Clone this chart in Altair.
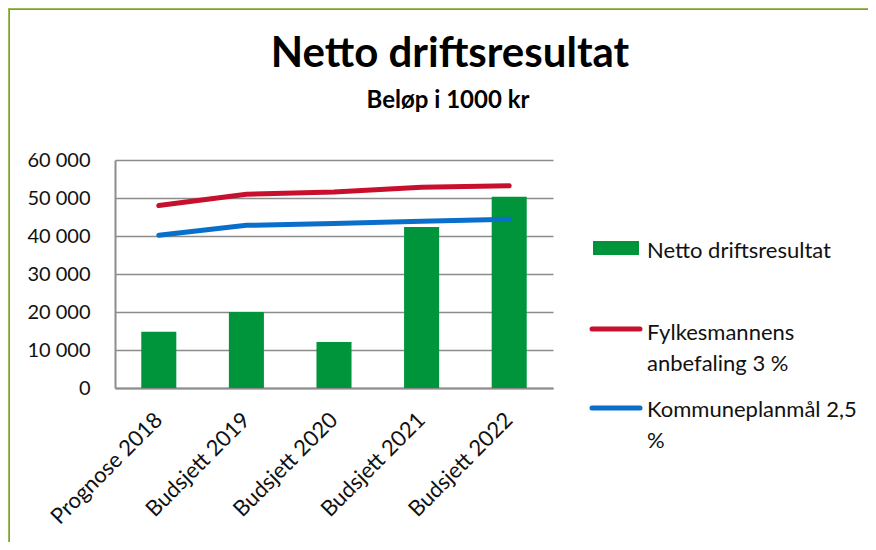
import altair as alt
import pandas as pd

categories = ["Prognose 2018", "Budsjett 2019", "Budsjett 2020", "Budsjett 2021", "Budsjett 2022"]
netto = [14800, 20000, 12100, 42400, 50300]
fylkesmann = [48000, 51000, 51600, 52800, 53200]
kommuneplan = [40200, 42800, 43300, 43900, 44400]
y_ticks = [0, 10000, 20000, 30000, 40000, 50000, 60000]

series_names = ["Netto driftsresultat", "Fylkesmannens\nanbefaling 3 %", "Kommuneplanmål 2,5\n%"]
series_colors = ["#00953A", "#C8102E", "#0A6FCA"]

FONT = "Lato"
W, H = 438, 228

bars_df = pd.DataFrame({"kategori": categories, "verdi": netto})
lines_df = pd.DataFrame({
    "kategori": categories * 2,
    "verdi": fylkesmann + kommuneplan,
    "serie": [series_names[1]] * 5 + [series_names[2]] * 5,
})
one = pd.DataFrame({"k": [0]})

xscale = alt.Scale(domain=categories, paddingInner=0.6, paddingOuter=0.3)
yscale = alt.Scale(domain=[0, 60000], nice=False)

x_axis = alt.Axis(title=None, labelAngle=-45, labelAlign="right", labelBaseline="middle",
                  labelFontSize=22, labelFont=FONT, labelColor="#111", labelPadding=28,
                  labelOverlap=False, ticks=False, domainColor="#8c8c8c", domainWidth=2, grid=False)
y_axis = alt.Axis(title=None, values=y_ticks, tickCount=7,
                  labelExpr="replace(format(datum.value, ','), ',', ' ')",
                  labelFontSize=20, labelFont=FONT, labelColor="#111", labelPadding=25,
                  labelOverlap=False, ticks=False, domainColor="#8c8c8c", domainWidth=2,
                  grid=True, gridColor="#8c8c8c", gridWidth=1.5)

bars = alt.Chart(bars_df).mark_bar(color=series_colors[0]).encode(
    x=alt.X("kategori:N", scale=xscale, axis=x_axis, sort=categories),
    y=alt.Y("verdi:Q", scale=yscale, axis=y_axis),
)

lines = alt.Chart(lines_df).mark_line(strokeWidth=5, strokeCap="round").encode(
    x=alt.X("kategori:N", scale=xscale, axis=x_axis, sort=categories, bandPosition=0.5),
    y=alt.Y("verdi:Q", scale=yscale, axis=y_axis),
    color=alt.Color("serie:N", scale=alt.Scale(domain=series_names[1:], range=series_colors[1:]), legend=None),
)

title = alt.Chart(one).mark_text(text="Netto driftsresultat", font=FONT, fontSize=42, fontWeight="bold",
                                 align="center", baseline="alphabetic", color="#000").encode(
    x=alt.value(335), y=alt.value(-93))
subtitle = alt.Chart(one).mark_text(text="Beløp i 1000 kr", font=FONT, fontSize=24, fontWeight="bold",
                                    align="center", baseline="alphabetic", color="#000").encode(
    x=alt.value(333), y=alt.value(-52))

leg_rect = alt.Chart(one).mark_rect(color=series_colors[0]).encode(
    x=alt.value(478), x2=alt.value(524), y=alt.value(81), y2=alt.value(95))
leg_red = alt.Chart(one).mark_rule(color=series_colors[1], strokeWidth=5, strokeCap="round").encode(
    x=alt.value(477), x2=alt.value(525), y=alt.value(169))
leg_blue = alt.Chart(one).mark_rule(color=series_colors[2], strokeWidth=5, strokeCap="round").encode(
    x=alt.value(477), x2=alt.value(525), y=alt.value(248))

def leg_text(txt, y):
    return alt.Chart(one).mark_text(text=txt, font=FONT, fontSize=22, align="left", baseline="alphabetic",
                                    lineBreak="\n", lineHeight=31, color="#111").encode(
        x=alt.value(532), y=alt.value(y))

border = [
    alt.Chart(one).mark_rect(color="#9BBB59").encode(x=alt.value(-107), x2=alt.value(-106), y=alt.value(-152), y2=alt.value(382)),
    alt.Chart(one).mark_rect(color="#9BBB59").encode(x=alt.value(-107), x2=alt.value(753), y=alt.value(-152), y2=alt.value(-151)),
    alt.Chart(one).mark_rect(color="#8a8a8a").encode(x=alt.value(-106), x2=alt.value(-105), y=alt.value(-151), y2=alt.value(382)),
    alt.Chart(one).mark_rect(color="#8a8a8a").encode(x=alt.value(-106), x2=alt.value(753), y=alt.value(-151), y2=alt.value(-150)),
]

chart = alt.layer(
    bars, lines, title, subtitle, leg_rect, leg_red, leg_blue,
    leg_text(series_names[0], 98), leg_text(series_names[1], 180), leg_text(series_names[2], 257),
    *border,
).properties(
    width=W, height=H,
    autosize=alt.AutoSizeParams(type="none"),
    padding={"left": 107, "top": 152, "right": 315, "bottom": 154},
    background="white",
).configure_view(stroke=None)

chart.save("out.html", embed_options={"renderer": "svg", "actions": False})
